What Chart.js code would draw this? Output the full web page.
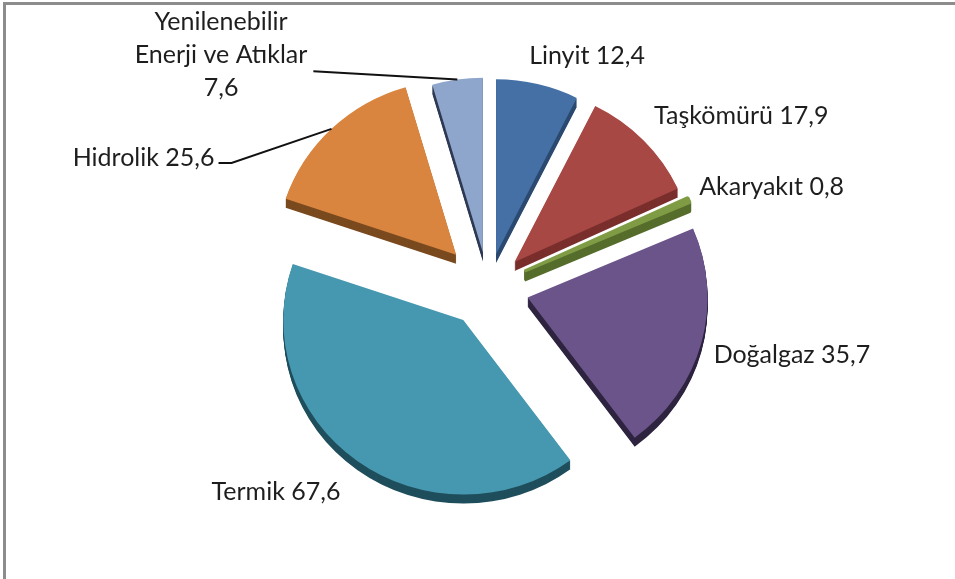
<!DOCTYPE html>
<html>
<head>
<meta charset="utf-8">
<script src="https://cdn.jsdelivr.net/npm/chart.js@4/dist/chart.umd.min.js"></script>
<style>
  html, body { margin: 0; padding: 0; background: #fff; overflow: hidden; }
  #frame {
    position: absolute; left: 3px; top: 2px; width: 1000px; height: 700px;
    border-left: 3px solid #8c8c8c; border-top: 3px solid #8c8c8c;
  }
  #pie { position: absolute; left: 0; top: 0; }
</style>
</head>
<body>
<div id="frame"></div>
<canvas id="pie" width="955" height="579"></canvas>
<script>
// Data
const categories = ['Linyit', 'Taşkömürü', 'Akaryakıt', 'Doğalgaz', 'Termik', 'Hidrolik', 'Yenilenebilir Enerji ve Atıklar'];
const values = [12.4, 17.9, 0.8, 35.7, 67.6, 25.6, 7.6];
const labelLines = [
    ['Linyit 12,4'],
    ['Taşkömürü 17,9'],
    ['Akaryakıt 0,8'],
    ['Doğalgaz 35,7'],
    ['Termik 67,6'],
    ['Hidrolik 25,6'],
    ['Yenilenebilir', 'Enerji ve Atıklar', '7,6']
];

// Styles
const topColors = ['#4570a6', '#a84845', '#7f9c45', '#6b5489', '#4698b0', '#d9853f', '#8ea6cb'];
const sideColors = ['#2c4a70', '#7a2f2d', '#566d2c', '#2e2440', '#1f4e5c', '#7a4a1f', '#2f3a55'];
const borderWidths = [0, 0, 3, 0, 0, 0, 0];
const explode = [35, 37, 40, 41, 42, 46, 36];   // px each slice is pulled out
const labelNudge = [[-13, -2], [-4, -6], [-8, -2], [-7, 5], [-5, 9], [-113, 39], [-144, -2]];
const hasLeader = [false, false, false, false, false, true, true];
const depth = 9;
const tilt = 0.97;   // slight vertical squash for the 3D look
const FONT = '25px Lato';

function shiftOf(arc, i) {
    const h = (arc.startAngle + arc.endAngle) / 2;
    return { dx: Math.cos(h), dy: Math.sin(h), e: explode[i] };
}

function tilted(ctx, arc) {
    ctx.translate(arc.x, arc.y);
    ctx.scale(1, tilt);
    ctx.translate(-arc.x, -arc.y);
}

// exploded slices with an extruded side under each one
const slicePlugin = {
    id: 'slices3d',
    beforeDatasetsDraw(chart) {
        const ctx = chart.ctx;
        const arcs = chart.getDatasetMeta(0).data;
        arcs.forEach((arc, i) => {
            const s = shiftOf(arc, i);
            const fake = Object.create(arc);
            fake.options = Object.assign({}, arc.options, {
                backgroundColor: sideColors[i], borderColor: sideColors[i]
            });
            for (let d = depth; d >= 1; d--) {
                ctx.save();
                ctx.translate(0, d);
                tilted(ctx, arc);
                ctx.translate(s.dx * s.e, s.dy * s.e);
                fake.draw(ctx);
                ctx.restore();
            }
        });
        arcs.forEach((arc, i) => {
            const s = shiftOf(arc, i);
            ctx.save();
            tilted(ctx, arc);
            ctx.translate(s.dx * s.e, s.dy * s.e);
            arc.draw(ctx);
            ctx.restore();
        });
        return false;
    },
    // slice labels, with leader lines for the two on the left
    afterDraw(chart) {
        const ctx = chart.ctx;
        const arcs = chart.getDatasetMeta(0).data;
        ctx.save();
        ctx.font = FONT;
        ctx.fillStyle = '#1e1e1e';
        ctx.strokeStyle = '#111';
        ctx.lineWidth = 2;
        ctx.textBaseline = 'middle';
        arcs.forEach((arc, i) => {
            const s = shiftOf(arc, i);
            const ox = arc.x + s.dx * (s.e + arc.outerRadius);
            const oy = arc.y + s.dy * (s.e + arc.outerRadius);
            const oyDrawn = arc.y + (oy - arc.y) * tilt;
            const lines = labelLines[i];
            const lh = 33;
            if (hasLeader[i]) {
                const ax = ox + labelNudge[i][0];
                const ay = oy + labelNudge[i][1];
                ctx.beginPath();
                ctx.moveTo(ox, oyDrawn);
                if (lines.length === 1) {
                    ctx.lineTo(ax + 13, ay);
                }
                ctx.lineTo(ax, ay);
                ctx.stroke();
                if (lines.length === 1) {
                    ctx.textAlign = 'right';
                    ctx.fillText(lines[0], ax - 4, ay - 5);
                } else {
                    ctx.textAlign = 'center';
                    const w = ctx.measureText(lines[1]).width;
                    const cx = ax - 6 - w / 2;
                    const cy = ay - 16;
                    lines.forEach((txt, k) => ctx.fillText(txt, cx, cy + (k - 1) * lh));
                }
            } else {
                const ax = ox + s.dx * 20 + labelNudge[i][0];
                const ay = oy + s.dy * 20 + labelNudge[i][1];
                ctx.textAlign = s.dx >= 0 ? 'left' : 'right';
                ctx.fillText(lines[0], ax, ay);
            }
        });
        ctx.restore();
    }
};

new Chart(document.getElementById('pie').getContext('2d'), {
    type: 'pie',
    data: {
        labels: categories,
        datasets: [{
            data: values,
            backgroundColor: topColors,
            borderColor: topColors,
            borderWidth: borderWidths,
            hoverOffset: 0
        }]
    },
    options: {
        responsive: false,
        animation: false,
        radius: 180,
        layout: { padding: { left: 21, right: 0, top: 0, bottom: 5 } },
        plugins: {
            legend: { display: false },
            tooltip: { enabled: false }
        },
        events: []
    },
    plugins: [slicePlugin]
});
</script>
</body>
</html>
